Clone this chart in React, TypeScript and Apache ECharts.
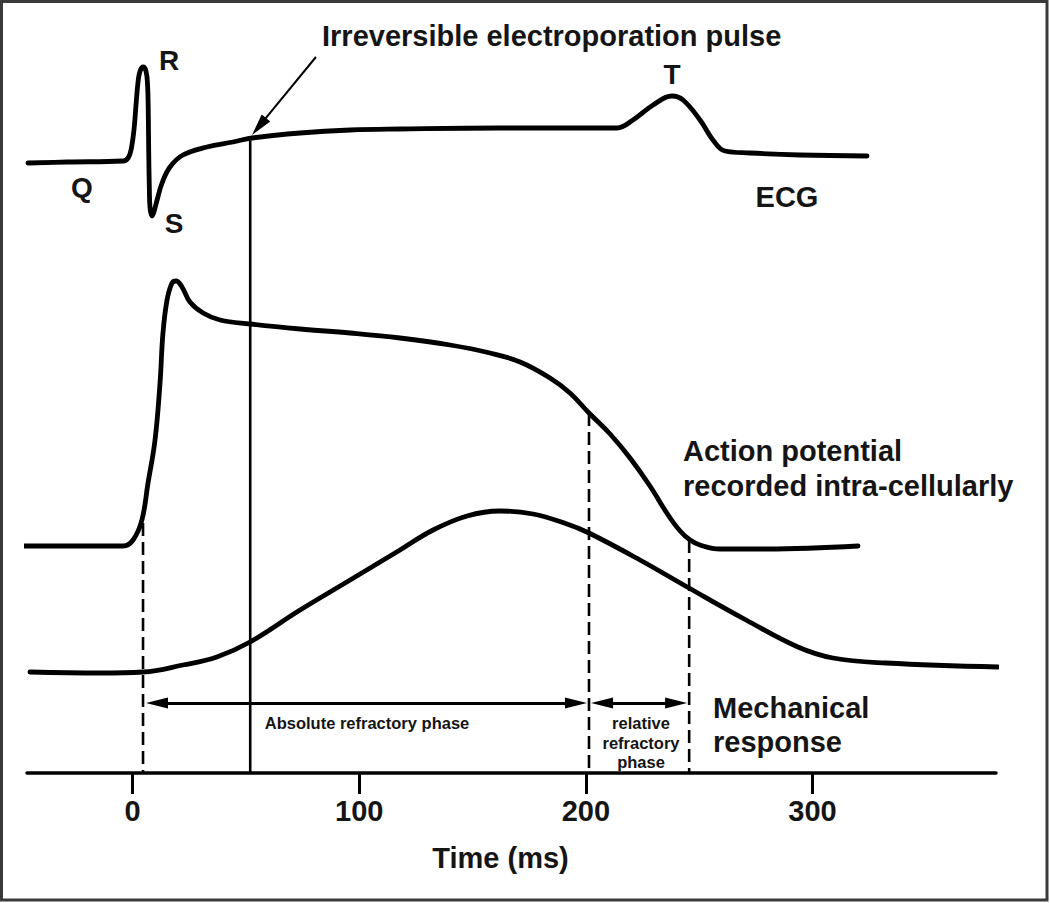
import React, { useEffect, useRef } from "react";
import * as echarts from "echarts";

// Time axis (ms)
const tickValues = [0, 100, 200, 300];
const axisTitle = "Time (ms)";

// Traces: [time (ms), height above time axis (arbitrary units)]
const ecg: [number, number][] = [
  [-46.2, 610], [-28.9, 611], [-4.2, 612], [-2.0, 615], [-0.7, 623], [0.6, 643], [1.5, 668],
  [2.4, 691], [3.3, 702], [4.6, 706], [5.9, 702], [6.6, 688], [6.9, 663], [7.1, 623],
  [7.4, 583], [7.7, 565], [8.6, 557], [9.4, 561], [10.8, 573], [13.0, 590], [16.5, 606],
  [22.2, 618], [32.8, 626], [44.3, 631], [52.7, 635], [73.9, 640], [96.0, 643], [118.0, 644],
  [162.1, 645], [206.3, 645], [213.8, 645], [220.8, 653], [229.7, 668], [238.0, 677],
  [242.9, 673], [250.4, 653], [256.1, 633], [261.4, 622], [272.5, 620], [294.5, 618], [324.1, 617],
];

const actionPotential: [number, number][] = [
  [-48.4, 227], [-23.2, 227], [-4.2, 227], [0.2, 233], [4.1, 253], [6.8, 290], [9.9, 333],
  [12.1, 390], [13.4, 440], [15.2, 473], [17.4, 490], [19.2, 492], [21.8, 486], [25.3, 471],
  [31.1, 460], [38.6, 453], [51.8, 449], [73.9, 444], [96.0, 440], [118.0, 435], [140.1, 428],
  [157.7, 420], [171.0, 411], [184.2, 395], [193.0, 380], [201.4, 360], [210.7, 339],
  [219.5, 315], [228.3, 287], [236.3, 258], [241.6, 242], [246.0, 233], [250.4, 228],
  [259.2, 224], [280.0, 224], [320.1, 227],
];

const mechanical: [number, number][] = [
  [-45.3, 101], [-14.4, 100], [4.6, 101], [22.2, 108], [37.2, 116], [51.8, 131], [73.9, 163],
  [96.0, 193], [118.0, 223], [132.6, 243], [147.6, 257], [162.1, 262], [176.7, 259],
  [191.7, 249], [201.4, 240], [223.9, 213], [245.5, 185], [270.7, 153], [293.6, 126],
  [309.1, 115], [332.5, 110], [381.9, 106],
];

// Electroporation pulse time and where it meets the ECG
const pulse: [number, number][] = [[51.9, 635], [51.9, 0]];
// Phase boundaries (dashed): [time, top height]
const boundaries: [number, number][] = [[4.6, 250], [201.4, 360], [245.6, 233]];
// Pointer from the pulse label to the pulse: [start, tip]
const pointer: [number, number][] = [[80.9, 716], [52.7, 638]];
// Phase arrows: [start tip, end tip] times at the arrow height
const phaseArrowHeight = 70;
const absolutePhase: [number, number] = [5.9, 200.5];
const relativePhase: [number, number] = [202.3, 244.7];

const waveLabels = ["Q", "R", "S", "T"];
const traceLabels = ["ECG", "Action potential", "recorded intra-cellularly", "Mechanical", "response"];
const phaseLabels = ["Absolute refractory phase", "relative", "refractory", "phase"];
const pulseLabel = "Irreversible electroporation pulse";

const FONT = '"Liberation Sans", Arial, Helvetica, sans-serif';
const INK = "#151515";

// layout scale (pixels per ms / per unit), used to pull arrow symbols back so tips land on targets
const X_MIN = -46.6;
const X_MAX = 381;
const GRID_LEFT = 27;
const GRID_RIGHT = 54;
const PX_PER_MS = (1050 - GRID_LEFT - GRID_RIGHT) / (X_MAX - X_MIN);
const HEAD_LEN = 22;
const HEAD_W = 11;

function txt(text: string, x: number, y: number, size: number, align: string = "center") {
  return {
    type: "text",
    x,
    y,
    silent: true,
    style: {
      text,
      fontSize: size,
      fontWeight: "bold",
      fontFamily: FONT,
      fill: INK,
      align,
      verticalAlign: "middle",
    },
  };
}

function traceSeries(name: string, data: [number, number][], width: number) {
  return {
    type: "line",
    name,
    data,
    symbol: "none",
    smooth: 0.4,
    clip: false,
    silent: true,
    lineStyle: { color: "#000", width, cap: "round", join: "round" },
  };
}

// move a tip back toward `from` by half the arrowhead length (symbols are centred on the end point)
function pullBack(from: [number, number], tip: [number, number]): [number, number] {
  const dx = (tip[0] - from[0]) * PX_PER_MS;
  const dy = tip[1] - from[1];
  const len = Math.sqrt(dx * dx + dy * dy);
  const k = HEAD_LEN / 2 / len;
  return [tip[0] - (dx * k) / PX_PER_MS, tip[1] - dy * k];
}

export default function App() {
  const ref = useRef<HTMLDivElement>(null);

  useEffect(() => {
    if (!ref.current) return;
    const chart = echarts.init(ref.current, undefined, { renderer: "svg" });

    const dashedSeries = boundaries.map((b, i) => ({
      type: "line",
      name: "boundary" + i,
      data: [[b[0], b[1]], [b[0], 0]],
      symbol: "none",
      clip: false,
      silent: true,
      lineStyle: { color: "#000", width: 2.6, type: [13, 6] },
    }));

    const absA: [number, number] = [absolutePhase[0], phaseArrowHeight];
    const absB: [number, number] = [absolutePhase[1], phaseArrowHeight];
    const relA: [number, number] = [relativePhase[0], phaseArrowHeight];
    const relB: [number, number] = [relativePhase[1], phaseArrowHeight];

    const head = { symbol: "triangle", symbolSize: [HEAD_W, HEAD_LEN] };

    const option: any = {
      animation: false,
      backgroundColor: "#fff",
      grid: { left: GRID_LEFT, right: GRID_RIGHT, top: 0, bottom: 130, containLabel: false },
      xAxis: {
        type: "value",
        min: X_MIN,
        max: X_MAX,
        axisLine: { show: true, onZero: false, lineStyle: { color: "#000", width: 3.5 } },
        axisTick: { show: true, length: 21, customValues: tickValues, lineStyle: { color: "#000", width: 3 } },
        axisLabel: {
          customValues: tickValues,
          fontSize: 29,
          fontWeight: "bold",
          fontFamily: FONT,
          color: INK,
          margin: 23,
        },
        splitLine: { show: false },
        name: axisTitle,
        nameLocation: "middle",
        nameGap: 70,
        nameTextStyle: {
          fontSize: 29,
          fontWeight: "bold",
          fontFamily: FONT,
          color: INK,
          padding: [0, 22, 0, 0],
        },
      },
      yAxis: { type: "value", min: 0, max: 773, show: false },
      series: [
        traceSeries("ECG", ecg, 4.8),
        traceSeries("Action potential", actionPotential, 4.8),
        traceSeries("Mechanical response", mechanical, 4.8),
        {
          type: "line",
          name: "pulse",
          data: pulse,
          symbol: "none",
          clip: false,
          silent: true,
          lineStyle: { color: "#000", width: 2.6 },
          markLine: {
            silent: true,
            animation: false,
            label: { show: false },
            emphasis: { disabled: true },
            data: [
              [
                { coord: pointer[0], symbol: "none", lineStyle: { color: "#000", width: 2, type: "solid" } },
                { coord: pullBack(pointer[0], pointer[1]), ...head },
              ],
              [
                { coord: pullBack(absB, absA), ...head, lineStyle: { color: "#000", width: 3, type: "solid" } },
                { coord: pullBack(absA, absB), ...head },
              ],
              [
                { coord: pullBack(relB, relA), ...head, lineStyle: { color: "#000", width: 3, type: "solid" } },
                { coord: pullBack(relA, relB), ...head },
              ],
            ],
            lineStyle: { color: "#000", type: "solid" },
            itemStyle: { color: "#000" },
          },
        },
        ...dashedSeries,
      ],
      graphic: [
        {
          type: "rect",
          silent: true,
          shape: { x: 1.5, y: 1.5, width: 1045.5, height: 898.5 },
          style: { fill: "none", stroke: "#3a3a3a", lineWidth: 3 },
        },
        txt(pulseLabel, 322, 36, 29, "left"),
        txt(waveLabels[0], 82, 187, 28),
        txt(waveLabels[1], 169, 60, 28),
        txt(waveLabels[2], 174, 223, 28),
        txt(waveLabels[3], 672, 74, 28),
        txt(traceLabels[0], 787, 197, 29),
        txt(traceLabels[1], 683, 451, 29, "left"),
        txt(traceLabels[2], 683, 486, 29, "left"),
        txt(traceLabels[3], 713, 708, 29, "left"),
        txt(traceLabels[4], 713, 742, 29, "left"),
        txt(phaseLabels[0], 367, 723, 16.5),
        txt(phaseLabels[1], 641, 723, 16.5),
        txt(phaseLabels[2], 641, 743, 16.5),
        txt(phaseLabels[3], 641, 762, 16.5),
      ],
    };

    chart.setOption(option);
    return () => chart.dispose();
  }, []);

  return (
    <div
      ref={ref}
      style={{ position: "absolute", left: 0, top: 0, width: 1050, height: 903, background: "#fff" }}
    />
  );
}
